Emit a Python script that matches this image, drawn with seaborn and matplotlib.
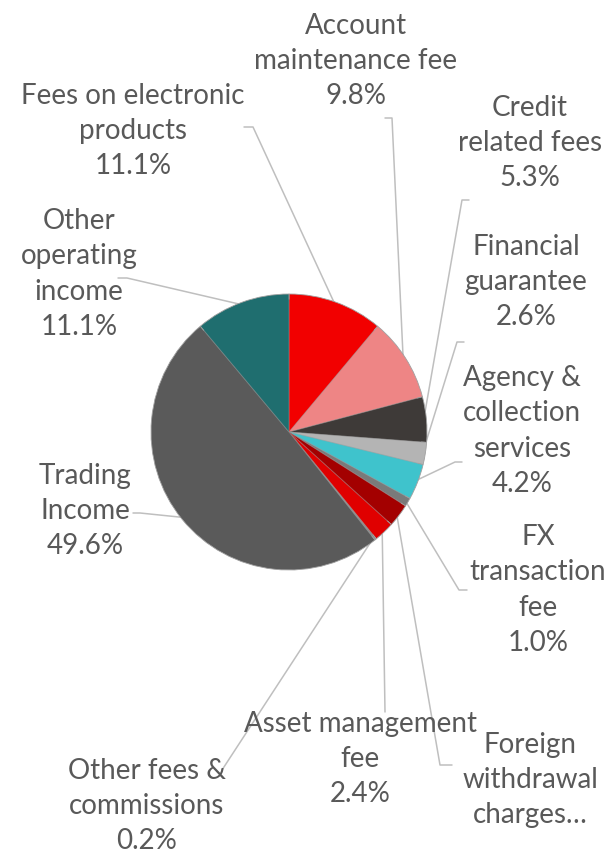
import numpy as np
import matplotlib
matplotlib.use("Agg")
import matplotlib.pyplot as plt
import seaborn as sns

# Income breakdown (share of total, %)
names = ["Fees on electronic\nproducts", "Account\nmaintenance fee", "Credit\nrelated fees",
         "Financial\nguarantee", "Agency &\ncollection\nservices", "FX\ntransaction\nfee",
         "Foreign\nwithdrawal\ncharges…", "Asset management\nfee", "Other fees &\ncommissions",
         "Trading\nIncome", "Other\noperating\nincome"]
shares = [11.1, 9.8, 5.3, 2.6, 4.2, 1.0, 2.7, 2.4, 0.2, 49.6, 11.1]
show_pct = [True, True, True, True, True, True, False, True, True, True, True]
colors = ["#F20000", "#EE8585", "#3E3A38", "#B4B4B4", "#3FC3CC", "#7A7A7A",
          "#A30000", "#E00000", "#8A8A8A", "#5A5A5A", "#1F6E6F"]

sns.set_theme(style="white")
plt.rcParams["font.family"] = ["Lato", "DejaVu Sans"]

W, H = 607, 855
fig = plt.figure(figsize=(W / 100, H / 100), dpi=100)
ax = fig.add_axes([0, 0, 1, 1])

cx, cy, R = 289, 432, 138
Y = lambda y: H - y

wedges, _ = ax.pie(shares, colors=colors, startangle=90, counterclock=False,
                   center=(cx, Y(cy)), radius=R,
                   wedgeprops=dict(edgecolor="#a0a0a0", linewidth=0.6))
# soft bevel look: slightly lighter core over the rim
ax.pie(shares, colors=colors, startangle=90, counterclock=False,
       center=(cx, Y(cy)), radius=R * 0.96,
       wedgeprops=dict(edgecolor="none", alpha=0.5))

ax.set_xlim(0, W)
ax.set_ylim(0, H)
ax.set_aspect("equal")
ax.axis("off")

# label centre (px) and leader line start/bend (px)
label_pos = [(133, 131), (356, 61), (530, 143), (526, 282), (522, 431), (538, 590),
             (530, 780), (360, 759), (147, 806), (85, 511), (79, 274)]
leader = [[(244, 127), (253, 127)], [(385, 118), (392, 118)], [(469, 200), (462, 200)],
          [(464, 342), (457, 342)], [(462, 462), (455, 462)], [(467, 590), (459, 590)],
          [(452, 765), (440, 765)], [(385, 712), (385, 712)], [(222, 770), (222, 770)],
          [(133, 513), (140, 513)], [(118, 278), (127, 278)]]

txt_color = "#595959"
line_color = "#BFBFBF"
for w, name, v, sp, (lx, ly), pts in zip(wedges, names, shares, show_pct, label_pos, leader):
    text = name + (f"\n{v:.1f}%" if sp else "")
    ax.text(lx, Y(ly), text, ha="center", va="center", multialignment="center",
            fontsize=20, color=txt_color, linespacing=1.45)
    mid = np.deg2rad((w.theta1 + w.theta2) / 2)
    ex, ey = w.center[0] + R * 0.98 * np.cos(mid), w.center[1] + R * 0.98 * np.sin(mid)
    xs = [pts[0][0], pts[1][0], ex]
    ys = [Y(pts[0][1]), Y(pts[1][1]), ey]
    ax.plot(xs, ys, color=line_color, lw=1.1, zorder=0.5)

fig.savefig("out.png", dpi=100)
